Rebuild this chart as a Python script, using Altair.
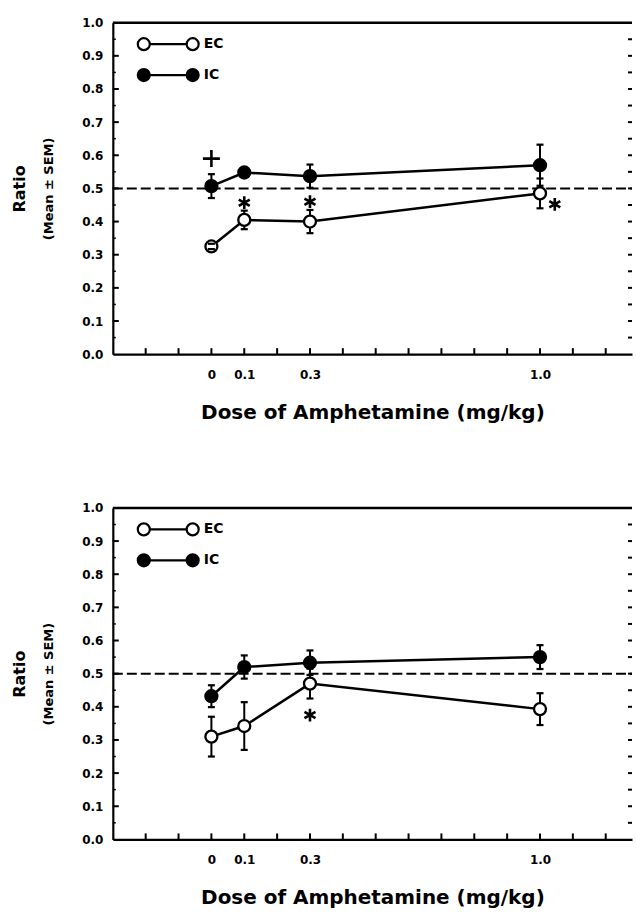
import altair as alt
import pandas as pd

FONT = "DejaVu Sans"

# ---------------- data ----------------
doses = [0.0, 0.1, 0.3, 1.0]
groups = ["EC", "IC"]

top_ec_mean = [0.325, 0.405, 0.400, 0.485]
top_ec_sem = [0.008, 0.028, 0.035, 0.045]
top_ic_mean = [0.507, 0.548, 0.537, 0.570]
top_ic_sem = [0.036, 0.010, 0.035, 0.062]

bottom_ec_mean = [0.310, 0.342, 0.470, 0.393]
bottom_ec_sem = [0.060, 0.072, 0.045, 0.048]
bottom_ic_mean = [0.432, 0.520, 0.533, 0.550]
bottom_ic_sem = [0.033, 0.035, 0.037, 0.036]

top_note_dose = [0.0, 0.1, 0.3, 1.045]
top_note_ratio = [0.590, 0.457, 0.460, 0.452]
top_note_symbol = ["+", "*", "*", "*"]

bottom_note_dose = [0.3]
bottom_note_ratio = [0.375]
bottom_note_symbol = ["*"]

reference_ratio = 0.5
y_label_values = [0.0, 0.1, 0.2, 0.3, 0.4, 0.5, 0.6, 0.7, 0.8, 0.9, 1.0]
x_label_values = [0.0, 0.1, 0.3, 1.0]
x_tick_values = [-0.2, -0.1, 0.0, 0.1, 0.2, 0.3, 0.4, 0.5, 0.6, 0.7, 0.8, 0.9, 1.0, 1.1, 1.2]
left_tick_values = [0.1, 0.2, 0.3, 0.4, 0.5, 0.6, 0.7, 0.8, 0.9]
minor_tick_values = [0.05, 0.15, 0.25, 0.35, 0.45, 0.55, 0.65, 0.75, 0.85, 0.95]
right_tick_values = [0.05, 0.1, 0.15, 0.2, 0.25, 0.3, 0.35, 0.4, 0.45, 0.5, 0.55,
                     0.6, 0.65, 0.7, 0.75, 0.8, 0.85, 0.9, 0.95]

x_domain = [-0.3, 1.28]
y_domain = [0.0, 1.0]

W = 520
H = 332

# symbols
legend_path = ("M-5.08,0A1,1 0 1,1 -3.08,0A1,1 0 1,1 -5.08,0Z "
               "M-3.08,0L3.08,0 "
               "M3.08,0A1,1 0 1,1 5.08,0A1,1 0 1,1 3.08,0Z")
asterisk_path = "M0,-1L0,1M-0.87,-0.5L0.87,0.5M-0.87,0.5L0.87,-0.5"
plus_path = "M0,-1L0,1M-1,0L1,0"

x_scale = alt.Scale(domain=x_domain, nice=False, zero=False)
y_scale = alt.Scale(domain=y_domain, nice=False, zero=False)

x_axis = alt.Axis(
    values=x_label_values, ticks=False, grid=False, domain=True,
    labelExpr="datum.value == 0 ? '0' : format(datum.value, '.1f')",
    labelOverlap=False, labelFlush=False, labelPadding=15,
    title="Dose of Amphetamine (mg/kg)", titlePadding=22, titleFontSize=20)

y_axis = alt.Axis(
    orient="left", values=y_label_values, format=".1f", ticks=False, grid=False,
    labelPadding=10, title="Ratio", titleX=-93, titleY=H / 2,
    titleAngle=-90, titleAlign="center", titleBaseline="middle",
    titleFontSize=16)

sub_axis = alt.Axis(
    orient="left", labels=False, ticks=False, domain=False, grid=False,
    title="(Mean ± SEM)", titleX=-64, titleY=H / 2, titleAngle=-90,
    titleAlign="center", titleBaseline="middle", titleFontSize=13)


def panel(ec_mean, ec_sem, ic_mean, ic_sem, n_dose, n_ratio, n_sym):
    df = pd.DataFrame({
        "dose": doses + doses,
        "group": ["EC"] * len(doses) + ["IC"] * len(doses),
        "mean": ec_mean + ic_mean,
        "sem": ec_sem + ic_sem,
    })
    df["lo"] = df["mean"] - df["sem"]
    df["hi"] = df["mean"] + df["sem"]
    notes = pd.DataFrame({"dose": n_dose, "ratio": n_ratio, "mark": n_sym})

    def xq(f):
        return alt.X(f, type="quantitative", scale=x_scale, axis=x_axis)

    def yq(f):
        return alt.Y(f, type="quantitative", scale=y_scale, axis=None)

    def xd(v):
        return alt.XDatum(v, type="quantitative", scale=x_scale, axis=x_axis)

    def yd(v):
        return alt.YDatum(v, type="quantitative", scale=y_scale, axis=None)

    # dashed reference line, carrying the secondary y title
    ref = alt.Chart(pd.DataFrame({"r": [reference_ratio]})).mark_rule(
        color="black", strokeWidth=2, strokeDash=[10, 4]).encode(
        y=alt.Y("r:Q", scale=y_scale, axis=sub_axis),
        x=xd(x_domain[0]), x2=alt.X2Datum(x_domain[1]))

    # frame top line
    top_line = alt.Chart(pd.DataFrame({"y": [y_domain[1]]})).mark_rule(
        color="black", strokeWidth=2.5).encode(
        y=yq("y"), x=xd(x_domain[0]), x2=alt.X2Datum(x_domain[1]))

    left_ticks = alt.Chart(pd.DataFrame({"t": left_tick_values})).mark_rule(
        color="black", strokeWidth=2, x2Offset=6).encode(
        y=yq("t"), x=xd(x_domain[0]), x2=alt.X2Datum(x_domain[0]))
    minor_ticks = alt.Chart(pd.DataFrame({"t": minor_tick_values})).mark_rule(
        color="black", strokeWidth=1.5, x2Offset=3).encode(
        y=yq("t"), x=xd(x_domain[0]), x2=alt.X2Datum(x_domain[0]))
    right_ticks = alt.Chart(pd.DataFrame({"t": right_tick_values})).mark_rule(
        color="black", strokeWidth=2, x2Offset=-4).encode(
        y=yq("t"), x=xd(x_domain[1]), x2=alt.X2Datum(x_domain[1]))
    bottom_ticks = alt.Chart(pd.DataFrame({"t": x_tick_values})).mark_rule(
        color="black", strokeWidth=2, y2Offset=-6).encode(
        x=xq("t"), y=yd(y_domain[0]), y2=alt.Y2Datum(y_domain[0]))

    base = alt.Chart(df)
    bars = base.mark_rule(color="black", strokeWidth=2).encode(
        x=xq("dose"), y=yq("lo"), y2="hi")
    cap_hi = base.mark_rule(color="black", strokeWidth=2.2, xOffset=-3.5, x2Offset=3.5).encode(
        x=xq("dose"), x2="dose", y=yq("hi"))
    cap_lo = base.mark_rule(color="black", strokeWidth=2.2, xOffset=-3.5, x2Offset=3.5).encode(
        x=xq("dose"), x2="dose", y=yq("lo"))
    lines = base.mark_line(color="black", strokeWidth=2.5).encode(
        x=xq("dose"), y=yq("mean"), detail="group:N")

    points = base.mark_point(filled=True, size=144, stroke="black", strokeWidth=2.3,
                             opacity=1).encode(
        x=xq("dose"),
        y=alt.Y("mean:Q", scale=y_scale, axis=y_axis),
        fill=alt.Fill("group:N", scale=alt.Scale(domain=groups, range=["white", "black"]),
                      legend=alt.Legend(
                          title=None, orient="none", legendX=48, legendY=14,
                          symbolType=legend_path, symbolSize=144,
                          symbolStrokeColor="black", symbolStrokeWidth=2.2,
                          labelFont=FONT, labelFontSize=14, labelFontWeight="bold",
                          labelColor="black", labelOffset=28, rowPadding=10,
                          padding=0)),
    )

    note_layer = alt.Chart(notes).mark_point(filled=False, stroke="black",
                                             strokeWidth=2.6, opacity=1).encode(
        x=xq("dose"), y=yq("ratio"),
        shape=alt.Shape("mark:N", scale=alt.Scale(domain=["*", "+"],
                                                  range=[asterisk_path, plus_path]),
                        legend=None),
        size=alt.Size("mark:N", scale=alt.Scale(domain=["*", "+"], range=[160, 289]),
                      legend=None),
    )

    return alt.layer(
        ref, top_line, left_ticks, minor_ticks, right_ticks, bottom_ticks,
        bars, lines, points, cap_hi, cap_lo, note_layer,
    ).resolve_axis(y="independent").properties(width=W, height=H)


top = panel(top_ec_mean, top_ec_sem, top_ic_mean, top_ic_sem,
            top_note_dose, top_note_ratio, top_note_symbol)
bottom = panel(bottom_ec_mean, bottom_ec_sem, bottom_ic_mean, bottom_ic_sem,
               bottom_note_dose, bottom_note_ratio, bottom_note_symbol)

chart = alt.vconcat(top, bottom, spacing=80).resolve_legend(
    fill="independent").resolve_scale(fill="independent").properties(
    padding={"left": 12, "top": 16, "right": 2, "bottom": 2},
    background="white",
).configure_view(stroke=None).configure_axis(
    domainColor="black", domainWidth=2.2,
    labelFont=FONT, labelFontSize=12, labelFontWeight="bold", labelColor="black",
    titleFont=FONT, titleFontWeight="bold", titleColor="black",
)

chart.save("out.html", embed_options={"renderer": "svg", "actions": False})
